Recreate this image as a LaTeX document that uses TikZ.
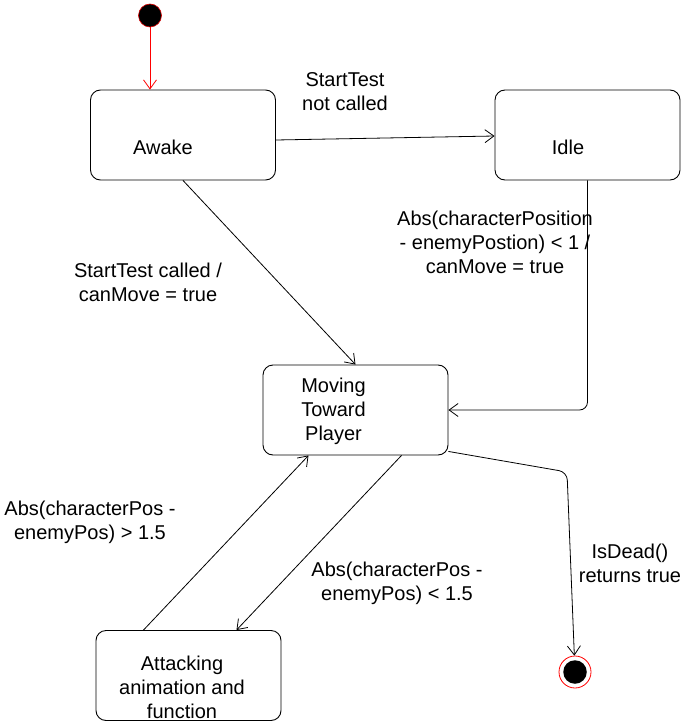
\documentclass[tikz,border=0pt]{standalone}
\usepackage{fontspec}
\setmainfont{Liberation Sans}
\usetikzlibrary{arrows.meta}

\begin{document}
\begin{tikzpicture}[x=1pt,y=-1pt,font=\fontsize{20}{24}\selectfont,
  state/.style={draw,rounded corners=10pt,minimum width=185pt,minimum height=90pt,inner sep=0pt,line width=0.9pt},
  lbl/.style={align=center,inner sep=0pt},
  trans/.style={line width=0.8pt,-{Straight Barb[length=9pt,width=13pt]}}]
   \useasboundingbox (0,0) rectangle (687,722);
   \node[circle,fill=black,draw=red!85!black,line width=0.6pt,minimum size=23pt,inner sep=0pt] (start) at (150,15.5) {};
   \node[state,label={[xshift=-20pt,yshift=-12pt]center:Awake}] (awake) at (183,135) {};
   \node[state,label={[xshift=-19.5pt,yshift=-12pt]center:Idle}] (idle) at (587.5,135) {};
   \node[state,label={[align=center,xshift=-22pt,yshift=-1pt]center:Moving\\Toward\\Player}] (moving) at (355.5,410) {};
   \node[state,label={[align=center,xshift=-6.5pt,yshift=-11.5pt]center:Attacking\\animation and\\function}] (attack) at (188.5,675.5) {};
   \node[circle,draw=red,line width=0.8pt,minimum size=32pt,inner sep=0pt] (final) at (575,672) {};
   \node[circle,fill=black,minimum size=23.5pt,inner sep=0pt] (finalcore) at (final) {};
   \coordinate (bend) at (567,472);

   \node[lbl] (notcalled) at (345,92) {StartTest\\not called};
   \node[lbl] (called) at (148,282) {StartTest called /\\canMove = true};
   \node[lbl] (near) at (495,242) {Abs(characterPosition\\- enemyPostion) < 1 /\\canMove = true};
   \node[lbl] (far) at (90,522) {Abs(characterPos -\\enemyPos) > 1.5};
   \node[lbl] (close) at (397,583) {Abs(characterPos -\\enemyPos) < 1.5};
   \node[lbl] (dead) at (630,563) {IsDead()\\returns true};

   \draw[trans,red] (start) -- (start |- awake.north);
   \draw[trans] ([yshift=-5pt]awake.east) -- ([yshift=-1pt]idle.west);
   \draw[trans] (awake.south) -- (moving.north);
   \draw[trans,rounded corners=8pt] (idle.south) |- (moving.east);
   \draw[trans] ([xshift=46pt]moving.south) -- ([xshift=48pt]attack.north);
   \draw[trans] ([xshift=-45pt]attack.north) -- ([xshift=-47pt]moving.south);
   \draw[trans,rounded corners=8pt] ([yshift=4pt]moving.south east) -- (bend) -- (final);
\end{tikzpicture}
\end{document}
